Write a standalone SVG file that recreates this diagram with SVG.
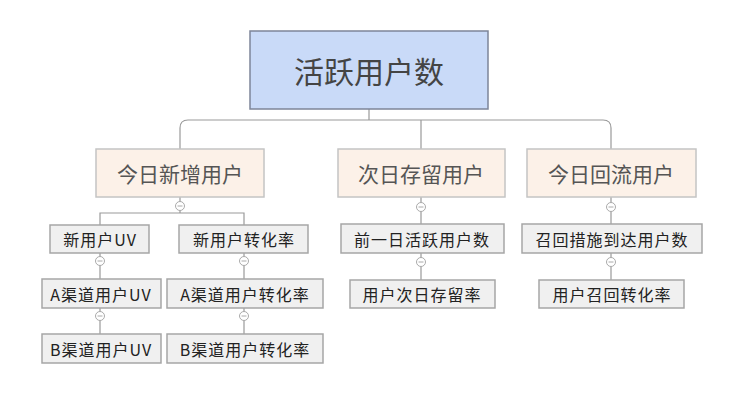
<svg xmlns="http://www.w3.org/2000/svg" width="753" height="400" viewBox="0 0 753 400">
<style>
.root rect{fill:#c9daf8;stroke:#7d8599;stroke-width:1.5}
.l1 rect{fill:#fcf1e8;stroke:#c4c4c4;stroke-width:1.5}
.l2 rect{fill:#f0f0f0;stroke:#a6a6a6;stroke-width:1.5}
text{font-family:"Noto Sans CJK SC","Liberation Sans",sans-serif;text-anchor:middle;dominant-baseline:central}
.root text{font-size:30px;fill:#444}
.l1 text{font-size:21px;fill:#555}
.l2 text{font-size:16px;fill:#222;letter-spacing:1px}
.conn path{fill:none;stroke:#9a9a9a;stroke-width:1.2}
.tog circle{fill:#fff;stroke:#aaa;stroke-width:1}
.tog path{stroke:#aaa;stroke-width:1}
</style>
<g id="connectors" class="conn">
<path d="M369 109V120M188 120H603Q611 120 611 128V149M180 149V128Q180 120 188 120M421 120V149"/>
<path d="M180 197V213M100 225V213H244V225"/>
<path d="M100 253V279M100 308V334M244 253V279M244 308V334"/>
<path d="M421 197V224M421 253V280"/>
<path d="M611 197V224M611 253V280"/>
</g>
<g id="root" class="root"><rect x="250" y="31" width="238" height="78"/><text x="369" y="70">活跃用户数</text></g>
<g id="n1" class="l1"><rect x="96" y="149" width="168" height="48"/><text x="180" y="173">今日新增用户</text></g>
<g id="n2" class="l1"><rect x="338" y="149" width="167" height="48"/><text x="421" y="173">次日存留用户</text></g>
<g id="n3" class="l1"><rect x="527" y="149" width="169" height="48"/><text x="611" y="173">今日回流用户</text></g>
<g id="n11" class="l2"><rect x="50" y="225" width="99" height="28"/><text x="100" y="239">新用户UV</text></g>
<g id="n12" class="l2"><rect x="179" y="225" width="129" height="28"/><text x="244" y="239">新用户转化率</text></g>
<g id="n111" class="l2"><rect x="42" y="279" width="119" height="29"/><text x="101" y="294">A渠道用户UV</text></g>
<g id="n121" class="l2"><rect x="167" y="279" width="156" height="29"/><text x="245" y="294">A渠道用户转化率</text></g>
<g id="n112" class="l2"><rect x="42" y="334" width="119" height="29"/><text x="101" y="349">B渠道用户UV</text></g>
<g id="n122" class="l2"><rect x="167" y="334" width="156" height="29"/><text x="245" y="349">B渠道用户转化率</text></g>
<g id="n21" class="l2"><rect x="341" y="224" width="163" height="29"/><text x="422" y="239">前一日活跃用户数</text></g>
<g id="n22" class="l2"><rect x="350" y="280" width="145" height="28"/><text x="422" y="294">用户次日存留率</text></g>
<g id="n31" class="l2"><rect x="522" y="224" width="180" height="29"/><text x="612" y="239">召回措施到达用户数</text></g>
<g id="n32" class="l2"><rect x="539" y="280" width="145" height="28"/><text x="612" y="294">用户召回转化率</text></g>
<g id="toggles" class="tog">
<circle cx="180" cy="206" r="4.5"/><path d="M177.5 206H182.5"/>
<circle cx="421" cy="207" r="4.5"/><path d="M418.5 207H423.5"/>
<circle cx="611" cy="207" r="4.5"/><path d="M608.5 207H613.5"/>
<circle cx="100" cy="261" r="4.5"/><path d="M97.5 261H102.5"/>
<circle cx="244" cy="261" r="4.5"/><path d="M241.5 261H246.5"/>
<circle cx="100" cy="316" r="4.5"/><path d="M97.5 316H102.5"/>
<circle cx="244" cy="316" r="4.5"/><path d="M241.5 316H246.5"/>
<circle cx="421" cy="262" r="4.5"/><path d="M418.5 262H423.5"/>
<circle cx="611" cy="262" r="4.5"/><path d="M608.5 262H613.5"/>
</g>
</svg>
